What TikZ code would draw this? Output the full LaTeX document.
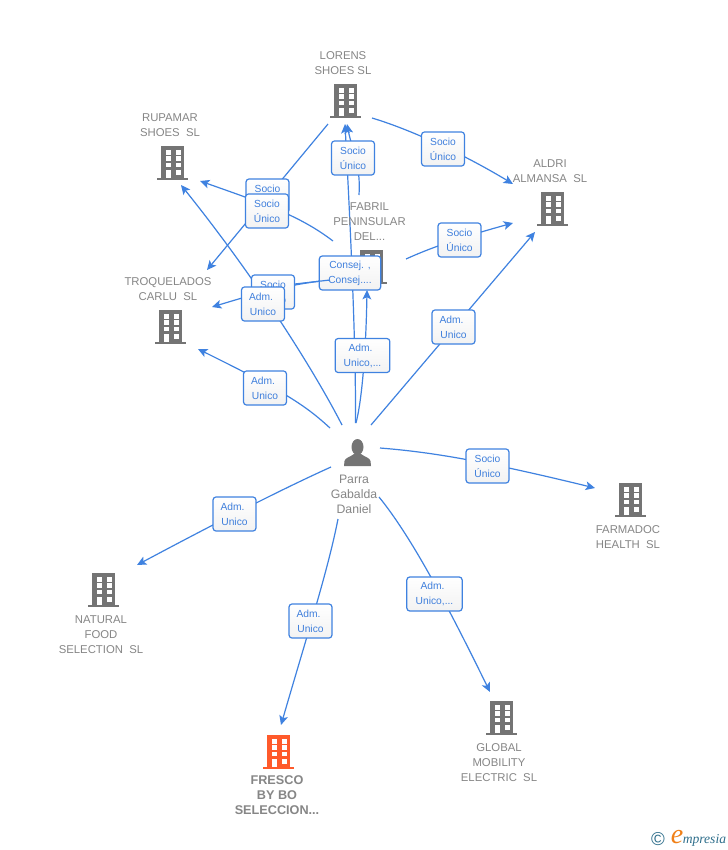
\documentclass[tikz,border=0pt]{standalone}
\usepackage{fontspec}
\setmainfont{Liberation Sans}
\newfontfamily\logofont{Liberation Serif}
\usetikzlibrary{arrows.meta}
\definecolor{linkblue}{HTML}{3F82E0}
\definecolor{boxtext}{HTML}{3F7FDC}
\definecolor{graytext}{HTML}{868686}
\definecolor{bldgray}{HTML}{747474}
\definecolor{bldorange}{HTML}{FF5A2B}
\definecolor{logoteal}{HTML}{2F6F8C}
\definecolor{logoorange}{HTML}{F08018}
\tikzset{
  x=0.75pt,y=-0.75pt,
  link/.style={draw=linkblue,line width=0.9pt},
  linka/.style={link,-{Stealth[length=7pt,width=6.5pt,inset=1.6pt]}},
  lbl/.style={draw=linkblue,line width=0.9pt,rounded corners=2.2pt,top color=white,bottom color=white!95!black,
    text=boxtext,font=\fontsize{7.7}{11.25}\selectfont,align=center,inner sep=0pt,minimum height=25.5pt},
  lblS/.style={lbl,minimum width=32.2pt},
  lblM/.style={lbl,minimum width=41.5pt},
  lblL/.style={lbl,minimum width=46pt},
  cap0/.style={text=graytext,font=\fontsize{8.5}{11.25}\selectfont,align=center,inner sep=0pt},
  capb/.style={text=graytext,font=\fontsize{9.5}{11.25}\selectfont\bfseries,align=center,inner sep=0pt},
  capp/.style={text=graytext,font=\fontsize{9.2}{11.25}\selectfont,align=center,inner sep=0pt},
  bldbox/.style={inner sep=0pt,minimum width=23pt,minimum height=25.5pt},
}
\newcommand\bldg[4]{%
  \node[bldbox] (#1) at (#2,#3) {};
  \begin{scope}[shift={(#2,#3)}]
    \fill[#4] (-11.5,-17) rectangle (11.5,15.2);
    \fill[#4] (-15.5,15.2) rectangle (15.5,17.3);
    \foreach \cx in {-6.5,3.5}{
      \foreach \ry in {-12.7,-6.7,0}{
        \fill[white] (\cx,\ry) rectangle ++(5,4.4);
      }
    }
    \fill[white] (-6.5,7.3) rectangle ++(5,7.9);
    \fill[white] (3.5,7.3) rectangle ++(5,4.2);
  \end{scope}}
\begin{document}
\begin{tikzpicture}
\useasboundingbox (0,0) rectangle (728,850);
\fill[white] (0,0) rectangle (728,850);

% connector ends
\coordinate (a1) at (328,124);   \coordinate (b1) at (207,270);
\coordinate (a2) at (333,241);   \coordinate (b2) at (200,181);
\coordinate (a3) at (342,425);   \coordinate (b3) at (181,185);
\coordinate (a4) at (355.5,423); \coordinate (b4) at (345,124);
\coordinate (a5) at (359,195);   \coordinate (b5) at (347,124);
\coordinate (a6) at (356,423);   \coordinate (b6) at (367,290);
\coordinate (a7) at (371,425);   \coordinate (b7) at (535,232);
\coordinate (a8) at (406,259);   \coordinate (b8) at (513,223);
\coordinate (a9) at (372,118);   \coordinate (b9) at (513,184);
\coordinate (a10) at (330,428);  \coordinate (b10) at (198,349);
\coordinate (a11) at (380,448);  \coordinate (b11) at (595,488);
\coordinate (a12) at (331,467);  \coordinate (b12) at (137,565);
\coordinate (a13) at (338,519);  \coordinate (b13) at (281,725);
\coordinate (a14) at (379,497);  \coordinate (b14) at (490,692);
\coordinate (a15) at (330,280);  \coordinate (b15) at (212,307);

% connectors
\draw[linka] (a1) -- (b1);
\draw[linka] (a2) .. controls (300,216) and (268,205) .. (b2);
\draw[linka] (a3) .. controls (318,378) and (262,286) .. (b3);
\draw[linka] (a4) .. controls (356,340) and (350,220) .. (b4);
\draw[linka] (a5) .. controls (361,165) and (352,150) .. (b5);
\draw[linka] (a6) .. controls (362,400) and (366,350) .. (b6);
\draw[linka] (a7) -- (b7);
\draw[linka] (a8) .. controls (428,249) and (455,239) .. (b8);
\draw[linka] (a9) .. controls (412,130) and (465,155) .. (b9);
\draw[linka] (a10) .. controls (305,405) and (285,392) .. (b10);
\draw[linka] (a11) .. controls (430,452) and (480,460) .. (b11);
\draw[linka] (a12) .. controls (280,490) and (210,526) .. (b12);
\draw[linka] (a13) .. controls (328,570) and (308,632) .. (b13);
\draw[linka] (a14) .. controls (410,535) and (445,600) .. (b14);
\draw[linka] (a15) .. controls (290,284) and (258,293) .. (b15);

% buildings
\bldg{lorens}{345.5}{101}{bldgray}
\bldg{rupamar}{172}{163}{bldgray}
\bldg{aldri}{552.5}{209}{bldgray}
\bldg{fabril}{371.5}{267}{bldgray}
\bldg{troquelados}{170}{327}{bldgray}
\bldg{farmadoc}{630}{500}{bldgray}
\bldg{natural}{103}{590}{bldgray}
\bldg{fresco}{278}{752}{bldorange}
\bldg{global}{501}{718}{bldgray}

% person
\node[inner sep=0pt,minimum width=20pt,minimum height=20pt] (parra) at (357.5,452.5) {};
\fill[bldgray] (357.5,447) ellipse (6 and 8);
\fill[bldgray] (344,466) -- (344.5,461) .. controls (345,458) and (350,457) .. (354,454) -- (361,454)
  .. controls (365,457) and (370,458) .. (370.5,461) -- (371,466) -- cycle;

% captions
\node[cap0] (tlorens) at (343,63.5) {LORENS\\SHOES SL};
\node[cap0] (trupamar) at (170,125.5) {RUPAMAR\\SHOES\ \ SL};
\node[cap0] (taldri) at (550,171.5) {ALDRI\\ALMANSA\ \ SL};
\node[cap0] (tfabril) at (369.5,222) {FABRIL\\PENINSULAR\\DEL...};
\node[cap0] (ttroq) at (168,289.5) {TROQUELADOS\\CARLU\ \ SL};
\node[cap0] (tfarm) at (628,537.5) {FARMADOC\\HEALTH\ \ SL};
\node[cap0] (tnat) at (101,635) {NATURAL\\FOOD\\SELECTION\ \ SL};
\node[capb] (tfresco) at (277,795) {FRESCO\\BY BO\\SELECCION...};
\node[cap0] (tglobal) at (499,763) {GLOBAL\\MOBILITY\\ELECTRIC\ \ SL};
\node[capp] (tparra) at (354,494) {Parra\\Gabalda\\Daniel};

% labels
\node[lblS] (l1) at (267.5,196) {Socio\\Único};
\node[lblS] (l2) at (267,211) {Socio\\Único};
\node[lblS] (l3) at (273,292) {Socio\\Único};
\node[lblS] (l4) at (263,304) {Adm.\kern3pt\\Unico};
\node[lblL] (l5) at (350,273) {Consej. ,\\Consej....};
\node[lblS] (l6) at (353,158) {Socio\\Único};
\node[lblS] (l7) at (443,149) {Socio\\Único};
\node[lblS] (l8) at (459.5,240) {Socio\\Único};
\node[lblS] (l9) at (453.5,327) {Adm.\kern3pt\\Unico};
\node[lblM,minimum width=41pt] (l10) at (362.5,355.5) {Adm.\kern3pt\\Unico,...};
\node[lblS] (l11) at (265,388) {Adm.\kern3pt\\Unico};
\node[lblS] (l12) at (487.5,466) {Socio\\Único};
\node[lblS] (l13) at (234.5,514) {Adm.\kern3pt\\Unico};
\node[lblS] (l14) at (310.5,621) {Adm.\kern3pt\\Unico};
\node[lblM] (l15) at (434.5,594) {Adm.\kern3pt\\Unico,...};

% line that runs into the Consej. box
\draw[link] (a15) -- (l3.20);

% logo
\node[text=logoteal,font=\fontsize{14}{14}\selectfont,inner sep=0pt] (copyr) at (658,839.5) {©};
\node[text=logoorange,font=\logofont\itshape\fontsize{21}{21}\selectfont,inner sep=0pt] (logoe) at (677,837) {e};
\node[text=logoteal,font=\logofont\itshape\fontsize{10.2}{10}\selectfont,inner sep=0pt,anchor=west] (logot) at (682.5,840) {mpresia};
\end{tikzpicture}
\end{document}
